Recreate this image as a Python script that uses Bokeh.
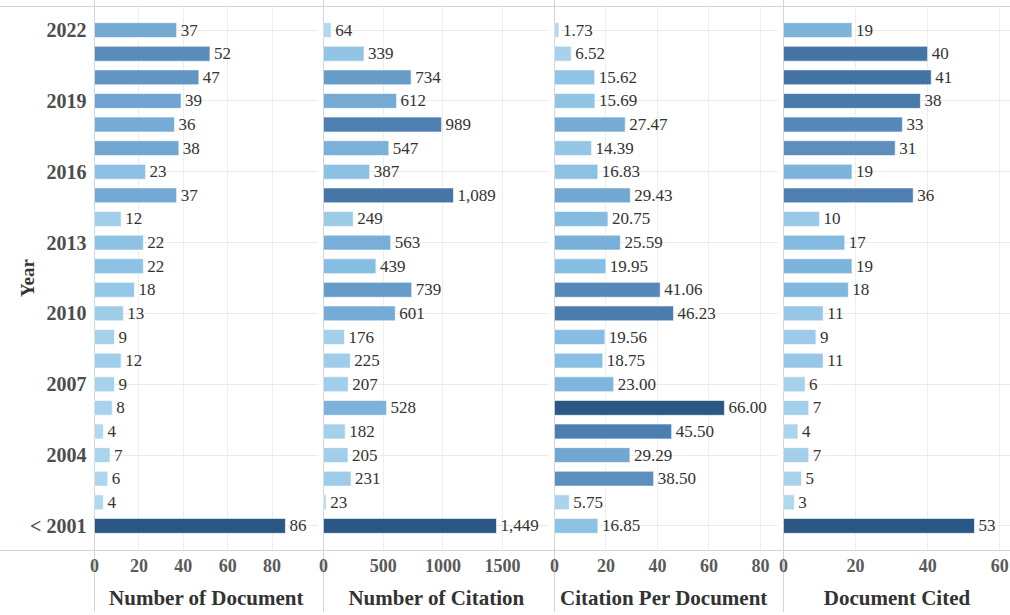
import numpy as np
from bokeh.plotting import figure
from bokeh.layouts import row
from bokeh.models import Range1d, FixedTicker, ColumnDataSource
from bokeh.core.properties import value
from bokeh.embed import file_html
from bokeh.resources import INLINE

# ---------------- data (top row first, as in the picture) ----------------
years = ["2022", "2021", "2020", "2019", "2018", "2017", "2016", "2015", "2014",
         "2013", "2012", "2011", "2010", "2009", "2008", "2007", "2006", "2005",
         "2004", "2003", "2002", "< 2001"]
num_documents = [37, 52, 47, 39, 36, 38, 23, 37, 12, 22, 22, 18, 13, 9, 12, 9, 8, 4, 7, 6, 4, 86]
num_citations = [64, 339, 734, 612, 989, 547, 387, 1089, 249, 563, 439, 739, 601, 176,
                 225, 207, 528, 182, 205, 231, 23, 1449]
citation_per_doc = [1.73, 6.52, 15.62, 15.69, 27.47, 14.39, 16.83, 29.43, 20.75, 25.59,
                    19.95, 41.06, 46.23, 19.56, 18.75, 23.00, 66.00, 45.50, 29.29, 38.50,
                    5.75, 16.85]
docs_cited = [19, 40, 41, 38, 33, 31, 19, 36, 10, 17, 19, 18, 11, 9, 11, 6, 7, 4, 7, 5, 3, 53]
labeled_years = ["2022", "2019", "2016", "2013", "2010", "2007", "2004", "< 2001"]

panel_titles = ["Number of Document", "Number of Citation", "Citation Per  Document", "Document Cited"]
panel_ticks = [[0, 20, 40, 60, 80], [0, 500, 1000, 1500], [0, 20, 40, 60, 80], [0, 20, 40, 60]]

# ---------------- style ----------------
SERIF = "Liberation Serif"
GLYPH_FONT = '"Liberation Serif", serif'
H = 612
TOP = 6
BOTTOM = 62
FRAME_H = H - TOP - BOTTOM
LINE = "#d4d4d4"

stops_t = [0.0, 0.3, 0.45, 0.6, 0.7, 1.0]
stops_c = ["#b9ddf1", "#86bde2", "#70a6d0", "#5a8cbc", "#4a7cad", "#2a5783"]


def hex2rgb(h):
    return [int(h[i:i + 2], 16) for i in (1, 3, 5)]


stop_rgb = np.array([hex2rgb(c) for c in stops_c], dtype=float)


def colors_for(vals):
    v = np.asarray(vals, dtype=float)
    t = v / v.max()
    out = []
    for tt in t:
        rgb = [int(round(np.interp(tt, stops_t, stop_rgb[:, k]))) for k in range(3)]
        out.append("#%02x%02x%02x" % tuple(rgb))
    return out


def frame_styles(left):
    g = f"linear-gradient({LINE},{LINE})"
    return {
        "background-image": f"{g}, {g}, {g}",
        "background-size": "1px 100%, 100% 1px, 100% 1px",
        "background-position": f"{left}px 0px, 0px {TOP}px, 0px {TOP + FRAME_H}px",
        "background-repeat": "no-repeat",
    }


# row positions: top row highest
n = len(years)
y_pos = list(range(n - 1, -1, -1))
y_range = Range1d(-1, n)
label_pos = [y_pos[years.index(y)] for y in labeled_years]
y_ticker = FixedTicker(ticks=label_pos)

series = [num_documents, num_citations, citation_per_doc, docs_cited]
labels = [
    [str(v) for v in num_documents],
    [f"{v:,}" for v in num_citations],
    [f"{v:.2f}" for v in citation_per_doc],
    [str(v) for v in docs_cited],
]
x_ends = [100.9, 1893, 87, 63]
widths = [318, 231, 229, 232]
lefts = [94, 5, 5, 5]

figs = []
for k in range(4):
    p = figure(width=widths[k], height=H, x_range=Range1d(0, x_ends[k]), y_range=y_range,
               output_backend="svg", toolbar_location=None,
               min_border_left=lefts[k], min_border_right=0, min_border_top=TOP,
               min_border_bottom=BOTTOM,
               y_axis_location="left" if k == 0 else None,
               border_fill_color=None, background_fill_color=None,
               outline_line_color=None, styles=frame_styles(lefts[k]))
    src = ColumnDataSource(dict(year=y_pos, val=series[k], lbl=labels[k], color=colors_for(series[k])))
    p.hbar(y="year", left=0, right="val", height=0.63, fill_color="color",
           line_color="#ffffff", line_width=0.6, source=src)
    p.text(x="val", y="year", text="lbl", source=src, x_offset=4,
           text_align="left", text_baseline="middle",
           text_font=value(GLYPH_FONT), text_font_size=value("17px"), text_color="#333333")

    ticker = FixedTicker(ticks=panel_ticks[k])
    xa = p.xaxis[0]
    xa.ticker = ticker
    xa.axis_line_color = None
    xa.major_tick_line_color = None
    xa.minor_tick_line_color = None
    xa.major_tick_out = 0
    xa.major_tick_in = 0
    xa.minor_tick_out = 0
    xa.major_label_standoff = 9
    xa.major_label_text_font = SERIF
    xa.major_label_text_font_style = "bold"
    xa.major_label_text_font_size = "18px"
    xa.major_label_text_color = "#5a5a5a"
    xa.axis_label = panel_titles[k]
    xa.axis_label_standoff = 11
    xa.axis_label_text_font = SERIF
    xa.axis_label_text_font_style = "bold"
    xa.axis_label_text_font_size = "21px"
    xa.axis_label_text_color = "#333333"

    p.xgrid.ticker = ticker
    p.xgrid.grid_line_color = "#eeeeee"
    p.ygrid.ticker = y_ticker
    p.ygrid.grid_line_color = "#ebebeb"

    if k == 0:
        ya = p.yaxis[0]
        ya.ticker = y_ticker
        ya.axis_line_color = None
        ya.major_tick_line_color = None
        ya.minor_tick_line_color = None
        ya.major_tick_out = 0
        ya.major_tick_in = 0
        ya.minor_tick_out = 0
        ya.major_label_standoff = 8
        ya.major_label_text_font = SERIF
        ya.major_label_text_font_style = "bold"
        ya.major_label_text_font_size = "20px"
        ya.major_label_text_color = "#4d4d4d"
        ya.major_label_overrides = {pos: lab for pos, lab in zip(label_pos, labeled_years)}
        ya.axis_label = "Year"
        ya.axis_label_standoff = -11
        ya.axis_label_text_font = SERIF
        ya.axis_label_text_font_style = "bold"
        ya.axis_label_text_font_size = "19px"
        ya.axis_label_text_color = "#333333"
    figs.append(p)

layout = row(*figs)
open("out.html", "w").write(file_html(layout, INLINE))
